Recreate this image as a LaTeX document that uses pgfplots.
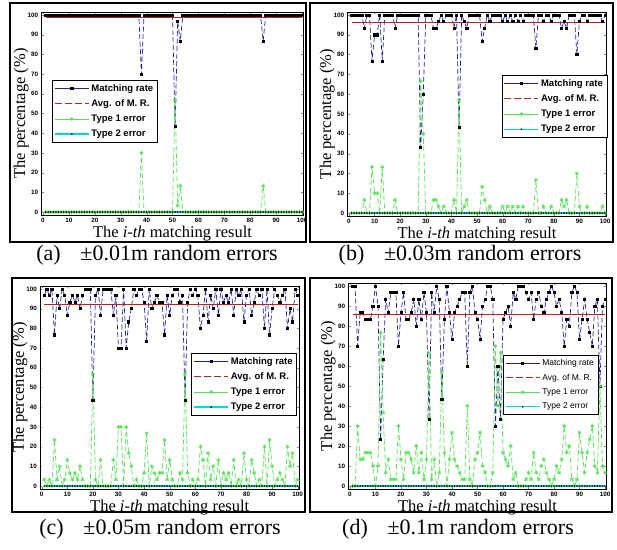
\documentclass[border=0pt]{standalone}
\usepackage{fontspec}
\setmainfont{Liberation Serif}
\setsansfont{Liberation Sans}
\usepackage{pgfplots}
\usepackage{pgfplotstable}
\pgfplotsset{compat=1.18}

\definecolor{mrblue}{RGB}{35,35,140}
\definecolor{avgred}{RGB}{175,40,40}
\definecolor{tonegreen}{RGB}{90,225,90}
\definecolor{ttwocyan}{RGB}{0,215,215}

% panel (a): +-0.01m
\pgfplotstableread[row sep=\\]{
x mr t1 t2\\
1 100 0 0\\ 2 100 0 0\\ 3 100 0 0\\ 4 100 0 0\\ 5 100 0 0\\ 6 100 0 0\\ 7 100 0 0\\ 8 100 0 0\\ 9 100 0 0\\ 10 100 0 0\\
11 100 0 0\\ 12 100 0 0\\ 13 100 0 0\\ 14 100 0 0\\ 15 100 0 0\\ 16 100 0 0\\ 17 100 0 0\\ 18 100 0 0\\ 19 100 0 0\\ 20 100 0 0\\
21 100 0 0\\ 22 100 0 0\\ 23 100 0 0\\ 24 100 0 0\\ 25 100 0 0\\ 26 100 0 0\\ 27 100 0 0\\ 28 100 0 0\\ 29 100 0 0\\ 30 100 0 0\\
31 100 0 0\\ 32 100 0 0\\ 33 100 0 0\\ 34 100 0 0\\ 35 100 0 0\\ 36 100 0 0\\ 37 100 0 0\\ 38 70 30 0\\ 39 100 0 0\\ 40 100 0 0\\
41 100 0 0\\ 42 100 0 0\\ 43 100 0 0\\ 44 100 0 0\\ 45 100 0 0\\ 46 100 0 0\\ 47 100 0 0\\ 48 100 0 0\\ 49 100 0 0\\ 50 100 0 0\\
51 43.3 56.7 0\\ 52 96.7 3.3 0\\ 53 86.7 13.3 0\\ 54 100 0 0\\ 55 100 0 0\\ 56 100 0 0\\ 57 100 0 0\\ 58 100 0 0\\ 59 100 0 0\\ 60 100 0 0\\
61 100 0 0\\ 62 100 0 0\\ 63 100 0 0\\ 64 100 0 0\\ 65 100 0 0\\ 66 100 0 0\\ 67 100 0 0\\ 68 100 0 0\\ 69 100 0 0\\ 70 100 0 0\\
71 100 0 0\\ 72 100 0 0\\ 73 100 0 0\\ 74 100 0 0\\ 75 100 0 0\\ 76 100 0 0\\ 77 100 0 0\\ 78 100 0 0\\ 79 100 0 0\\ 80 100 0 0\\
81 100 0 0\\ 82 100 0 0\\ 83 100 0 0\\ 84 100 0 0\\ 85 86.7 13.3 0\\ 86 100 0 0\\ 87 100 0 0\\ 88 100 0 0\\ 89 100 0 0\\ 90 100 0 0\\
91 100 0 0\\ 92 100 0 0\\ 93 100 0 0\\ 94 100 0 0\\ 95 100 0 0\\ 96 100 0 0\\ 97 100 0 0\\ 98 100 0 0\\ 99 100 0 0\\ 100 100 0 0\\
}\tabA

% panel (b): +-0.03m
\pgfplotstableread[row sep=\\]{
x mr t1 t2\\
1 100 0 0\\ 2 100 0 0\\ 3 100 0 0\\ 4 100 0 0\\ 5 100 0 0\\ 6 93.3 6.7 0\\ 7 100 0 0\\ 8 100 0 0\\ 9 76.7 23.3 0\\ 10 90 10 0\\
11 90 10 0\\ 12 100 0 0\\ 13 76.7 23.3 0\\ 14 100 0 0\\ 15 100 0 0\\ 16 100 0 0\\ 17 100 0 0\\ 18 93.3 6.7 0\\ 19 100 0 0\\ 20 100 0 0\\
21 100 0 0\\ 22 100 0 0\\ 23 100 0 0\\ 24 100 0 0\\ 25 100 0 0\\ 26 100 0 0\\ 27 100 0 0\\ 28 33.3 66.7 0\\ 29 60 40 0\\ 30 100 0 0\\
31 100 0 0\\ 32 100 0 0\\ 33 93.3 6.7 0\\ 34 93.3 6.7 0\\ 35 96.7 3.3 0\\ 36 100 0 0\\ 37 96.7 3.3 0\\ 38 100 0 0\\ 39 100 0 0\\ 40 100 0 0\\
41 93.3 6.7 0\\ 42 100 0 0\\ 43 43.3 56.7 0\\ 44 100 0 0\\ 45 96.7 3.3 0\\ 46 93.3 6.7 0\\ 47 100 0 0\\ 48 100 0 0\\ 49 100 0 0\\ 50 100 0 0\\
51 100 0 0\\ 52 86.7 13.3 0\\ 53 93.3 6.7 0\\ 54 100 0 0\\ 55 96.7 3.3 0\\ 56 100 0 0\\ 57 100 0 0\\ 58 100 0 0\\ 59 100 0 0\\ 60 96.7 3.3 0\\
61 100 0 0\\ 62 96.7 3.3 0\\ 63 100 0 0\\ 64 96.7 3.3 0\\ 65 100 0 0\\ 66 96.7 3.3 0\\ 67 100 0 0\\ 68 96.7 3.3 0\\ 69 100 0 0\\ 70 100 0 0\\
71 100 0 0\\ 72 100 0 0\\ 73 83.3 16.7 0\\ 74 100 0 0\\ 75 100 0 0\\ 76 96.7 3.3 0\\ 77 100 0 0\\ 78 100 0 0\\ 79 96.7 3.3 0\\ 80 100 0 0\\
81 100 0 0\\ 82 100 0 0\\ 83 93.3 6.7 0\\ 84 96.7 3.3 0\\ 85 93.3 6.7 0\\ 86 100 0 0\\ 87 100 0 0\\ 88 100 0 0\\ 89 80 20 0\\ 90 96.7 3.3 0\\
91 100 0 0\\ 92 100 0 0\\ 93 96.7 3.3 0\\ 94 100 0 0\\ 95 100 0 0\\ 96 100 0 0\\ 97 100 0 0\\ 98 100 0 0\\ 99 96.7 3.3 0\\ 100 100 0 0\\
}\tabB

% panel (c): +-0.05m
\pgfplotstableread[row sep=\\]{
x mr t1 t2\\
1 96.7 3.3 0\\ 2 100 0 0\\ 3 96.7 3.3 0\\ 4 100 0 0\\ 5 76.7 23.3 0\\ 6 96.7 3.3 0\\ 7 90 10 0\\ 8 100 0 0\\ 9 96.7 3.3 0\\ 10 86.7 13.3 0\\
11 93.3 6.7 0\\ 12 96.7 3.3 0\\ 13 93.3 6.7 0\\ 14 96.7 3.3 0\\ 15 90 10 0\\ 16 96.7 3.3 0\\ 17 100 0 0\\ 18 100 0 0\\ 19 100 0 0\\ 20 43.3 56.7 0\\
21 96.7 3.3 0\\ 22 100 0 0\\ 23 86.7 13.3 0\\ 24 100 0 0\\ 25 100 0 0\\ 26 100 0 0\\ 27 100 0 0\\ 28 86.7 13.3 0\\ 29 96.7 3.3 0\\ 30 70 30 0\\
31 70 30 0\\ 32 100 0 0\\ 33 70 30 0\\ 34 83.3 16.7 0\\ 35 90 10 0\\ 36 100 0 0\\ 37 96.7 3.3 0\\ 38 100 0 0\\ 39 100 0 0\\ 40 93.3 6.7 0\\
41 73.3 26.7 0\\ 42 100 0 0\\ 43 90 10 0\\ 44 93.3 6.7 0\\ 45 96.7 3.3 0\\ 46 93.3 6.7 0\\ 47 93.3 6.7 0\\ 48 76.7 23.3 0\\ 49 96.7 3.3 0\\ 50 86.7 13.3 0\\
51 96.7 3.3 0\\ 52 100 0 0\\ 53 100 0 0\\ 54 93.3 6.7 0\\ 55 96.7 3.3 0\\ 56 43.3 56.7 0\\ 57 93.3 6.7 0\\ 58 100 0 0\\ 59 96.7 3.3 0\\ 60 100 0 0\\
61 96.7 3.3 0\\ 62 80 20 0\\ 63 86.7 13.3 0\\ 64 100 0 0\\ 65 83.3 16.7 0\\ 66 96.7 3.3 0\\ 67 90 10 0\\ 68 100 0 0\\ 69 86.7 13.3 0\\ 70 100 0 0\\
71 93.3 6.7 0\\ 72 96.7 3.3 0\\ 73 93.3 6.7 0\\ 74 100 0 0\\ 75 86.7 13.3 0\\ 76 100 0 0\\ 77 96.7 3.3 0\\ 78 100 0 0\\ 79 83.3 16.7 0\\ 80 96.7 3.3 0\\
81 100 0 0\\ 82 86.7 13.3 0\\ 83 93.3 6.7 0\\ 84 100 0 0\\ 85 96.7 3.3 0\\ 86 100 0 0\\ 87 80 20 0\\ 88 100 0 0\\ 89 76.7 23.3 0\\ 90 90 10 0\\
91 100 0 0\\ 92 96.7 3.3 0\\ 93 93.3 6.7 0\\ 94 96.7 3.3 0\\ 95 100 0 0\\ 96 80 20 0\\ 97 90 10 0\\ 98 83.3 16.7 0\\ 99 100 0 0\\ 100 96.7 3.3 0\\
}\tabC

% panel (d): +-0.1m
\pgfplotstableread[row sep=\\]{
x mr t1 t2\\
1 100 0 0\\ 2 100 0 0\\ 3 70 30 0\\ 4 86.7 13.3 0\\ 5 86.7 13.3 0\\ 6 83.3 16.7 0\\ 7 83.3 16.7 0\\ 8 83.3 16.7 0\\ 9 90 10 0\\ 10 100 0 0\\
11 90 10 0\\ 12 23.3 76.7 0\\ 13 63.3 36.7 0\\ 14 93.3 6.7 0\\ 15 86.7 13.3 0\\ 16 96.7 3.3 0\\ 17 96.7 3.3 0\\ 18 96.7 3.3 0\\ 19 70 30 0\\ 20 86.7 13.3 0\\
21 96.7 3.3 0\\ 22 83.3 16.7 0\\ 23 83.3 16.7 0\\ 24 86.7 13.3 0\\ 25 93.3 6.7 0\\ 26 80 20 0\\ 27 93.3 6.7 0\\ 28 83.3 16.7 0\\ 29 96.7 3.3 0\\ 30 86.7 13.3 0\\
31 33.3 66.7 0\\ 32 96.7 3.3 0\\ 33 86.7 13.3 0\\ 34 100 0 0\\ 35 93.3 6.7 0\\ 36 43.3 56.7 0\\ 37 83.3 16.7 0\\ 38 100 0 0\\ 39 86.7 13.3 0\\ 40 73.3 26.7 0\\
41 86.7 13.3 0\\ 42 90 10 0\\ 43 93.3 6.7 0\\ 44 96.7 3.3 0\\ 45 96.7 3.3 0\\ 46 60 40 0\\ 47 96.7 3.3 0\\ 48 100 0 0\\ 49 86.7 13.3 0\\ 50 83.3 16.7 0\\
51 73.3 26.7 0\\ 52 90 10 0\\ 53 93.3 6.7 0\\ 54 100 0 0\\ 55 100 0 0\\ 56 93.3 6.7 0\\ 57 30 70 0\\ 58 60 40 0\\ 59 33.3 66.7 0\\ 60 83.3 16.7 0\\
61 86.7 13.3 0\\ 62 90 10 0\\ 63 80 20 0\\ 64 96.7 3.3 0\\ 65 93.3 6.7 0\\ 66 100 0 0\\ 67 100 0 0\\ 68 100 0 0\\ 69 96.7 3.3 0\\ 70 93.3 6.7 0\\
71 96.7 3.3 0\\ 72 83.3 16.7 0\\ 73 93.3 6.7 0\\ 74 96.7 3.3 0\\ 75 90 10 0\\ 76 86.7 13.3 0\\ 77 93.3 6.7 0\\ 78 96.7 3.3 0\\ 79 100 0 0\\ 80 96.7 3.3 0\\
81 90 10 0\\ 82 93.3 6.7 0\\ 83 86.7 13.3 0\\ 84 70 30 0\\ 85 83.3 16.7 0\\ 86 80 20 0\\ 87 96.7 3.3 0\\ 88 100 0 0\\ 89 96.7 3.3 0\\ 90 73.3 26.7 0\\
91 83.3 16.7 0\\ 92 93.3 6.7 0\\ 93 83.3 16.7 0\\ 94 76.7 23.3 0\\ 95 70 30 0\\ 96 90 10 0\\ 97 93.3 6.7 0\\ 98 50 50 0\\ 99 90 10 0\\ 100 93.3 6.7 0\\
}\tabD

\pgfplotsset{
  panel/.style={
    scale only axis, clip=false,
    xmin=-0.5, xmax=100.5, ymin=-1.5, ymax=101.5,
    xtick={0,10,...,100}, ytick={0,10,...,100},
    tick align=inside, major tick length=2pt,
    tick label style={font=\fontsize{6.3}{7}\sffamily\bfseries},
    /pgf/number format/assume math mode=true,
    axis line style={line width=0.6pt},
    xlabel={The \textit{i-th} matching result},
    ylabel={The percentage (\%)},
    label style={font=\fontsize{16.5}{18}\selectfont},
    xlabel style={yshift=4pt},
    ylabel style={yshift=-8pt},
    legend cell align=left,
    legend style={draw=black, line width=0.5pt, fill=white,
      font=\fontsize{9.5}{11}\sffamily\bfseries,
      row sep=3pt, inner sep=2pt},
    legend image code/.code={%
      \draw[mark repeat=2,mark phase=2] plot coordinates {(0pt,0pt) (17pt,0pt) (34pt,0pt)};},
  },
  mr/.style={color=mrblue, line width=0.7pt, dash pattern=on 5pt off 2.5pt,
    mark=square*, mark size=1.1pt, mark options={solid, draw=black, fill=black},
    legend image post style={solid}},
  avg/.style={color=avgred, line width=0.8pt, solid, no marks,
    legend image post style={dash pattern=on 7pt off 3pt}},
  tone/.style={color=tonegreen, line width=0.7pt, dash pattern=on 5pt off 2.5pt,
    mark=asterisk, mark size=2pt, mark options={solid},
    legend image post style={solid}},
  ttwo/.style={color=ttwocyan, line width=1.3pt, solid,
    mark=star, mark size=0.9pt, mark options={draw=black, line width=0.4pt}},
}

\newcommand\panelplots[2]{%
  \addplot[mr] table[x=x, y=mr] {#1}; \addlegendentry{Matching rate}
  \addplot[avg] coordinates {(1,#2) (100,#2)}; \addlegendentry{Avg. of M. R.}
  \addplot[tone] table[x=x, y=t1] {#1}; \addlegendentry{Type 1 error}
  \addplot[ttwo] table[x=x, y=t2] {#1}; \addlegendentry{Type 2 error}
}

\begin{document}
\begin{tikzpicture}
% frames round the four panels
\draw[line width=1.4pt] (10pt,307pt) rectangle (306pt,546pt);
\draw[line width=1.4pt] (310pt,307pt) rectangle (613pt,546pt);
\draw[line width=1.4pt] (12pt,37pt) rectangle (305pt,271pt);
\draw[line width=1.4pt] (310pt,37pt) rectangle (612pt,271pt);

\begin{axis}[panel, at={(41.7pt,334pt)}, anchor=south west,
  width=261.6pt, height=203pt,
  legend style={at={(0.039,0.665)}, anchor=north west}]
\panelplots{\tabA}{98.8}
\end{axis}

\begin{axis}[panel, at={(347.7pt,333pt)}, anchor=south west,
  width=258.6pt, height=204pt,
  legend style={at={(1.003,0.691)}, anchor=north east}]
\panelplots{\tabB}{96.1}
\end{axis}

\begin{axis}[panel, at={(40.4pt,60pt)}, anchor=south west,
  width=258.6pt, height=203pt,
  legend style={at={(0.992,0.67)}, anchor=north east}]
\panelplots{\tabC}{92.4}
\end{axis}

\begin{axis}[panel, at={(348.7pt,60pt)}, anchor=south west,
  width=257.6pt, height=206pt,
  legend style={at={(0.968,0.65)}, anchor=north east,
    font=\fontsize{8.5}{10}\sffamily, row sep=3pt}]
\panelplots{\tabD}{85.8}
\end{axis}

\node[font=\fontsize{22}{24}\selectfont] at (157pt,294pt) {(a)\hspace{0.9em}±0.01m random errors};
\node[font=\fontsize{22}{24}\selectfont] at (460pt,294pt) {(b)\hspace{0.9em}±0.03m random errors};
\node[font=\fontsize{22}{24}\selectfont] at (160pt,20pt) {(c)\hspace{0.9em}±0.05m random errors};
\node[font=\fontsize{22}{24}\selectfont] at (458pt,20pt) {(d)\hspace{0.9em}±0.1m random errors};

\pgfresetboundingbox
\path (0pt,0pt) rectangle (617pt,549pt);
\end{tikzpicture}
\end{document}
